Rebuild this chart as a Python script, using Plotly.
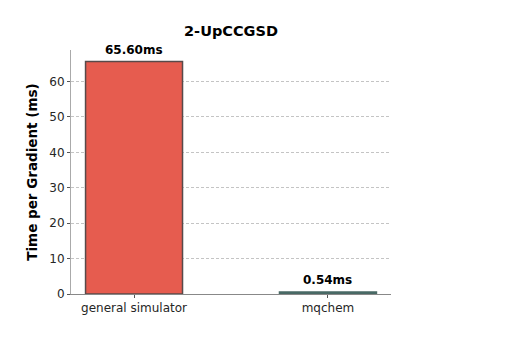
import plotly.graph_objects as go

categories = ["general simulator", "mqchem"]
values = [65.60, 0.54]
labels = ["65.60ms", "0.54ms"]
colors = ["#e65c4f", "#466a64"]
edge_colors = ["#584a4a", "#4a6a65"]

fig = go.Figure()
fig.add_trace(go.Bar(
    x=[0, 1], y=values, width=0.5,
    marker=dict(color=colors, line=dict(color=edge_colors, width=1.5)),
    showlegend=False,
))
for i, (v, t) in enumerate(zip(values, labels)):
    fig.add_annotation(x=i, y=v, text="<b>%s</b>" % t, showarrow=False,
                       yanchor="bottom", yshift=3,
                       font=dict(family="DejaVu Sans", size=12, color="black"))

fig.update_layout(
    width=532, height=346,
    margin=dict(l=71, r=141, t=50, b=52),
    paper_bgcolor="white", plot_bgcolor="white",
    font=dict(family="DejaVu Sans", size=12, color="#262626"),
    title=dict(text="<b>2-UpCCGSD</b>", x=231/532, xanchor="center", y=1-31/346, yanchor="middle",
               font=dict(family="DejaVu Sans", size=14.5, color="black")),
    xaxis=dict(range=[-0.325, 1.325], tickmode="array", tickvals=[0, 1], ticktext=categories,
               showline=True, linecolor="#888888", linewidth=1, ticks="outside", ticklen=3,
               tickcolor="#555555", showgrid=False, zeroline=False, fixedrange=True),
    yaxis=dict(range=[0, 68.88], tickvals=[0, 10, 20, 30, 40, 50, 60],
               showline=True, linecolor="#aaaaaa", linewidth=1, ticks="outside", ticklen=3,
               tickcolor="#555555", showgrid=True, gridcolor="#c4c4c4", griddash="3px,2px",
               gridwidth=0.8, zeroline=False,
               title=dict(text="<b>Time per Gradient (ms)</b>", standoff=8,
                          font=dict(family="DejaVu Sans", size=13.5, color="black"))),
)
fig.write_html("out.html")
